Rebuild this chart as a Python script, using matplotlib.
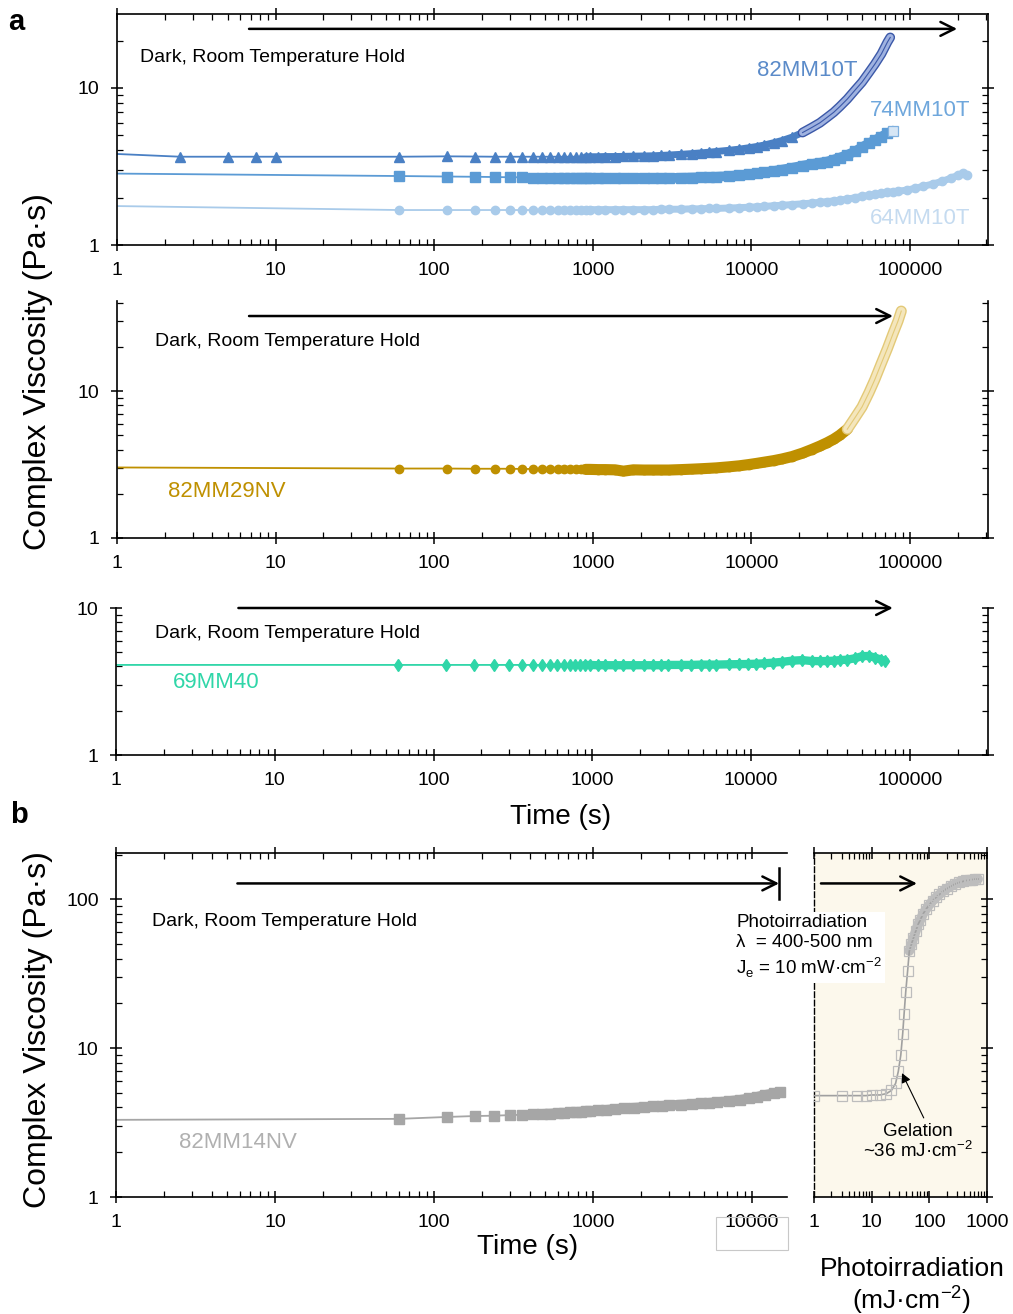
import numpy as np
import matplotlib
matplotlib.use("Agg")
import matplotlib.pyplot as plt
import matplotlib.patheffects as pe
from matplotlib.ticker import LogLocator, NullFormatter, FuncFormatter
from matplotlib.patches import Rectangle

plt.rcParams['font.family'] = ['Liberation Sans', 'DejaVu Sans']
plt.rcParams['mathtext.fontset'] = 'custom'
plt.rcParams['mathtext.rm'] = 'Liberation Sans'

# sampling times of the dark hold (s)
time_hold = [60, 120, 180, 240, 300, 360, 420, 480, 540, 600, 660, 720, 780, 840, 900, 960,
             1080, 1200, 1380, 1560, 1800, 2100, 2400, 2700, 3000,
             3600, 4200, 4800, 5400, 6000,
             7200, 8400, 9600, 10800, 12000,
             13800, 15600, 18000, 21000, 24000, 27000, 30000, 33000, 36000,
             40200, 45000, 49800, 55200, 60000, 66000, 72000, 78000]

# panel a, top
t_82mm10t = [1, 2.5, 5, 7.5, 10] + time_hold[:51] + [75000]
visc_82mm10t = [3.8, 3.65, 3.65, 3.65, 3.65,
                3.65, 3.67, 3.66, 3.65, 3.65, 3.65, 3.65, 3.65, 3.65, 3.65, 3.65, 3.65, 3.65, 3.65, 3.65, 3.65,
                3.65, 3.66, 3.66, 3.67, 3.68, 3.69, 3.70, 3.72, 3.74,
                3.78, 3.82, 3.86, 3.90, 3.94,
                4.01, 4.08, 4.16, 4.24, 4.33,
                4.48, 4.63, 4.86, 5.2, 5.6, 6.0, 6.5, 7.0, 7.6,
                8.5, 9.7, 10.9, 12.6, 14.2, 16.5, 19.6,
                21.0]

t_74mm10t = [1] + time_hold
visc_74mm10t = [2.85,
                2.75, 2.73, 2.72, 2.71, 2.70, 2.70, 2.69, 2.69, 2.69, 2.68, 2.68, 2.68, 2.68, 2.68, 2.68, 2.68,
                2.67, 2.67, 2.66, 2.66, 2.66, 2.66, 2.66, 2.66, 2.67,
                2.68, 2.69, 2.70, 2.71, 2.72,
                2.75, 2.78, 2.82, 2.86, 2.90,
                2.96, 3.02, 3.10, 3.2, 3.28, 3.34, 3.4, 3.5, 3.6,
                3.75, 3.95, 4.2, 4.45, 4.65, 4.9, 5.15, 5.35]

t_64mm10t = [1] + time_hold + [84000, 96000, 108000, 120000, 140000, 160000, 180000, 200000, 215000, 230000]
visc_64mm10t = [1.77,
                1.67, 1.67, 1.67, 1.67, 1.67, 1.67, 1.67, 1.67, 1.67, 1.67, 1.67, 1.67, 1.67, 1.67, 1.68, 1.68,
                1.68, 1.68, 1.68, 1.68, 1.68, 1.68, 1.68, 1.69, 1.69,
                1.69, 1.70, 1.70, 1.71, 1.71,
                1.72, 1.73, 1.74, 1.75, 1.76,
                1.78, 1.79, 1.81, 1.83, 1.85, 1.87, 1.89, 1.91, 1.93,
                1.96, 2.0, 2.04, 2.07, 2.1, 2.13, 2.16, 2.18,
                2.2, 2.24, 2.3, 2.36, 2.45, 2.55, 2.66, 2.78, 2.86, 2.8]

# panel a, middle
t_82mm29nv = [1] + time_hold + [84000, 88000]
visc_82mm29nv = [3.02,
                 2.97, 2.97, 2.96, 2.96, 2.96, 2.95, 2.95, 2.95, 2.95, 2.94, 2.94, 2.94, 2.94, 2.93, 2.93, 2.93,
                 2.92, 2.92, 2.91, 2.85, 2.91, 2.90, 2.90, 2.90, 2.90,
                 2.92, 2.94, 2.96, 2.98, 3.0,
                 3.05, 3.1, 3.16, 3.22, 3.28,
                 3.36, 3.45, 3.58, 3.78, 4.0, 4.22, 4.45, 4.7, 5.0,
                 5.5, 6.6, 7.8, 9.8, 12.0, 15.5, 19.5, 24.5,
                 30.0, 35.0]

# panel a, bottom
t_69mm40 = [1] + time_hold[:50] + [70000]
visc_69mm40 = [4.1,
               4.1, 4.1, 4.1, 4.1, 4.1, 4.1, 4.1, 4.1, 4.1, 4.1, 4.1, 4.1, 4.1, 4.1, 4.1, 4.1,
               4.08, 4.08, 4.08, 4.08, 4.08, 4.08, 4.08, 4.08, 4.1,
               4.1, 4.1, 4.12, 4.12, 4.12,
               4.14, 4.15, 4.16, 4.18, 4.2,
               4.25, 4.3, 4.38, 4.42, 4.36, 4.35, 4.36, 4.38, 4.42,
               4.45, 4.55, 4.7, 4.72, 4.6, 4.45,
               4.35]

# panel b, dark hold
t_82mm14nv = [1] + time_hold[:36] + [15000]
visc_82mm14nv = [3.3,
                 3.35, 3.45, 3.5, 3.52, 3.55, 3.57, 3.6, 3.62, 3.64, 3.66, 3.68, 3.7, 3.72, 3.74, 3.76, 3.78,
                 3.82, 3.85, 3.9, 3.94, 3.98, 4.02, 4.06, 4.1, 4.13,
                 4.18, 4.22, 4.26, 4.3, 4.34,
                 4.42, 4.5, 4.6, 4.72, 4.85,
                 4.98,
                 5.08]

# panel b, photoirradiation
dose = [1, 3, 5.5, 8, 10, 14, 18, 22, 26, 29, 32, 34.5, 36.5, 39, 42, 45, 49, 53, 58, 64, 70, 78, 88,
        100, 115, 130, 150, 175, 200, 240, 280, 330, 380, 440, 500, 560, 620, 700]
visc_dose = [4.8, 4.8, 4.8, 4.8, 4.85, 4.85, 4.95, 5.2, 5.8, 7.0, 9.0, 12.5, 17, 24, 33, 45, 50, 55, 61,
             68, 73, 80, 86, 92, 98, 103, 108, 114, 118, 123, 127, 130, 132, 134, 135, 136, 137, 137]

W, H = 1013, 1314
fig = plt.figure(figsize=(W / 100, H / 100), dpi=100)


def add_axes(x0, y0, x1, y1):
    return fig.add_axes([x0 / W, 1 - y1 / H, (x1 - x0) / W, (y1 - y0) / H])


def style(ax, xlim, ylim, top=True, right=True, left=True, labelleft=True):
    ax.set_xscale('log')
    ax.set_yscale('log')
    ax.set_xlim(*xlim)
    ax.set_ylim(*ylim)
    for axis in (ax.xaxis, ax.yaxis):
        axis.set_major_locator(LogLocator(base=10, numticks=12))
        axis.set_minor_locator(LogLocator(base=10, subs=np.arange(2, 10), numticks=12))
        axis.set_major_formatter(FuncFormatter(lambda v, p: f'{v:g}'))
        axis.set_minor_formatter(NullFormatter())
    ax.tick_params(which='major', direction='inout', length=9, width=1.1, labelsize=14,
                   top=top, right=right, left=left, labelleft=labelleft)
    ax.tick_params(which='minor', direction='in', length=4.5, width=0.9,
                   top=top, right=right, left=left)
    ax.tick_params(axis='x', pad=8)
    ax.tick_params(axis='y', pad=8)
    for s in ax.spines.values():
        s.set_linewidth(1.2)
    ax.spines['top'].set_visible(top)
    ax.spines['right'].set_visible(right)


def draw_series(ax, t, v, color, marker, ms, mark_from=60, band_from=900, band_lw=7,
                hollow_from=None, hollow_edge=None, hollow_face=None, hollow_lw=6):
    t = np.asarray(t, dtype=float)
    v = np.asarray(v, dtype=float)
    if hollow_from is None:
        hollow_from = np.inf
    ax.plot(t, v, '-', color=color, lw=1.3, zorder=2)
    band = (t >= band_from) & (t <= hollow_from)
    ax.plot(t[band], v[band], '-', color=color, lw=band_lw, solid_capstyle='round', zorder=2)
    filled = (t >= mark_from) & (t < hollow_from)
    ax.plot(t[filled], v[filled], ls='none', marker=marker, ms=ms, color=color, mec=color, zorder=3)
    hol = t >= hollow_from
    if hol.sum() > 1:
        # dense open markers read as an outlined strip
        ax.plot(t[hol], v[hol], '-', color=hollow_face, lw=hollow_lw, solid_capstyle='round', zorder=3,
                path_effects=[pe.Stroke(linewidth=hollow_lw + 2, foreground=hollow_edge), pe.Normal()])
        ax.plot(t[hol], v[hol], '-', color=hollow_edge, lw=0.8, zorder=4)
    elif hol.any():
        ax.plot(t[hol], v[hol], ls='none', marker=marker, ms=ms, mfc=hollow_face,
                mec=hollow_edge, mew=0.9, zorder=3)


def arrow(ax, x0, x1, y, ms=25):
    ax.annotate('', xy=(x1, y), xytext=(x0, y), annotation_clip=False,
                arrowprops=dict(arrowstyle='->', lw=1.8, color='black', mutation_scale=ms,
                                shrinkA=0, shrinkB=0), zorder=6)


def ftext(x, y, s, **kw):
    kw.setdefault('va', 'center')
    return fig.text(x / W, 1 - y / H, s, **kw)


xmax_a = 3.1e5

# ---- panel a, top
ax1 = add_axes(117, 14, 988, 245)
style(ax1, (1, xmax_a), (1, 29.6))
draw_series(ax1, t_64mm10t, visc_64mm10t, '#a9cbea', 'o', 6, band_lw=5)
draw_series(ax1, t_74mm10t, visc_74mm10t, '#5b9bd5', 's', 6.5, band_lw=7,
            hollow_from=78000, hollow_edge='#7fb0df', hollow_face='#d6e6f5')
draw_series(ax1, t_82mm10t, visc_82mm10t, '#4a80c4', '^', 6.5, mark_from=2.5, band_lw=5,
            hollow_from=21000, hollow_edge='#3b58a8', hollow_face='#9fb2e0', hollow_lw=5)
arrow(ax1, 6.8, 1.98e5, 23.8)
ftext(140, 58, 'Dark, Room Temperature Hold', fontsize=14)
ftext(807, 70, '82MM10T', fontsize=16, ha='center', color='#5b8bc9')
ftext(920, 110, '74MM10T', fontsize=16, ha='center', color='#6fa7dc')
ftext(920, 219, '64MM10T', fontsize=16, ha='center', color='#c5dbf0')

# ---- panel a, middle
ax2 = add_axes(117, 301, 988, 538)
style(ax2, (1, xmax_a), (1, 41), top=False)
draw_series(ax2, t_82mm29nv, visc_82mm29nv, '#bf9000', 'o', 6, band_lw=8,
            hollow_from=40200, hollow_edge='#e3c977', hollow_face='#f4e6bc', hollow_lw=6)
arrow(ax2, 6.8, 7.8e4, 32.4)
ftext(155, 342, 'Dark, Room Temperature Hold', fontsize=14)
ftext(227, 491, '82MM29NV', fontsize=16, ha='center', color='#bf9000')

# ---- panel a, bottom
ax3 = add_axes(116, 608, 988, 755)
style(ax3, (1, xmax_a), (1, 10), top=False)
draw_series(ax3, t_69mm40, visc_69mm40, '#2fd6a8', 'd', 6, band_lw=6)
arrow(ax3, 5.9, 7.8e4, 10)
ftext(155, 634, 'Dark, Room Temperature Hold', fontsize=14)
ftext(216, 682, '69MM40', fontsize=16, ha='center', color='#2fd6a8')

ftext(38, 372, 'Complex Viscosity (Pa·s)', fontsize=23, ha='center', rotation=90)
ftext(561, 817, 'Time (s)', fontsize=20, ha='center')

# ---- panel b, dark hold
axb1 = add_axes(116, 853, 787, 1197)
style(axb1, (1, 16600), (1, 205), right=False)
draw_series(axb1, t_82mm14nv, visc_82mm14nv, '#a6a6a6', 's', 6.5, band_from=420, band_lw=7)
arrow(axb1, 5.8, 1.48e4, 128)
axb1.plot([1.48e4, 1.48e4], [101, 163], color='black', lw=1.8, clip_on=False, zorder=6)
ftext(152, 922, 'Dark, Room Temperature Hold', fontsize=14)
ftext(238, 1143, '82MM14NV', fontsize=16, ha='center', color='#b0b0b0')

# ---- panel b, photoirradiation
axb2 = add_axes(814, 853, 987, 1197)
style(axb2, (1, 1000), (1, 205), left=False, labelleft=False)
axb2.set_facecolor('#fcf8ec')
axb2.spines['left'].set_linestyle((0, (4, 2)))
axb2.spines['left'].set_linewidth(1.0)
dose_a = np.asarray(dose)
visc_a = np.asarray(visc_dose)
dense = dose_a >= 45
axb2.plot(dose_a[dense], visc_a[dense], '-', color='#bdbdbd', lw=7, solid_capstyle='round', zorder=2)
axb2.plot(dose, visc_dose, '-', color='#a0a0a0', lw=1.2, zorder=3)
axb2.plot(dose, visc_dose, ls='none', marker='s', ms=6.5, mfc='none', mec='#bdbdbd', mew=0.9, zorder=3)
arrow(axb2, 1.32, 61, 128)
axb2.annotate('', xy=(33.5, 6.8), xytext=(80, 3.4),
              arrowprops=dict(arrowstyle='-|>', lw=0.8, color='black', mutation_scale=14,
                              shrinkA=0, shrinkB=0))

ftext(736, 914, 'Photoirradiation\nλ  = 400-500 nm\nJ$_{\\mathregular{e}}$ = 10 mW·cm$^{\\mathregular{-2}}$',
      fontsize=13.5, va='top', ha='left', linespacing=1.25,
      bbox=dict(facecolor='white', edgecolor='none', pad=2))
ftext(918, 1131, 'Gelation', fontsize=13.5, ha='center')
ftext(918, 1151, '~36 mJ·cm$^{\\mathregular{-2}}$', fontsize=13.5, ha='center')

ftext(38, 1030, 'Complex Viscosity (Pa·s)', fontsize=23, ha='center', rotation=90)
ftext(528, 1247, 'Time (s)', fontsize=20, ha='center')
ftext(912, 1269, 'Photoirradiation', fontsize=19, ha='center')
ftext(912, 1300, '(mJ·cm$^{\\mathregular{-2}}$)', fontsize=19, ha='center')

fig.add_artist(Rectangle((716 / W, 1 - 1250 / H), 72 / W, 33 / H, transform=fig.transFigure,
                         fill=False, ec='#c8c8c8', lw=0.8))

ftext(8, 22, 'a', fontsize=21, fontweight='bold')
ftext(10, 815, 'b', fontsize=21, fontweight='bold')

fig.savefig('out.png', dpi=100)
